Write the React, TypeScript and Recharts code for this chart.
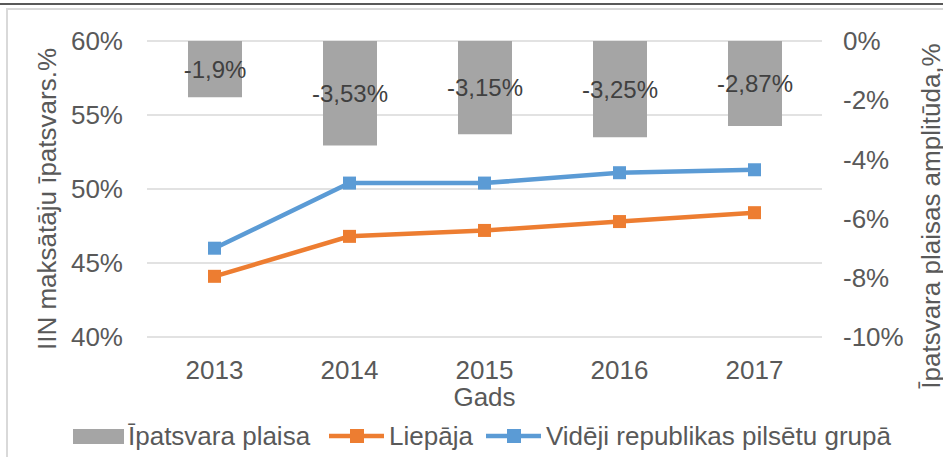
import {
  ComposedChart,
  Bar,
  Line,
  XAxis,
  YAxis,
  CartesianGrid,
  LabelList,
  Legend,
  Label,
} from "recharts";

const years = ["2013", "2014", "2015", "2016", "2017"];
const gapValues = [-1.9, -3.53, -3.15, -3.25, -2.87];
const liepajaValues = [44.1, 46.8, 47.2, 47.8, 48.4];
const averageValues = [46.0, 50.4, 50.4, 51.1, 51.3];
const leftTicks = [40, 45, 50, 55, 60];
const rightTicks = [-10, -8, -6, -4, -2, 0];

const GRAY = "#a5a5a5";
const ORANGE = "#ed7d31";
const BLUE = "#5b9bd5";
const TEXT = "#595959";
const FONT = "'Liberation Sans', Arial, sans-serif";
const FS = 26;

const data = years.map((year, i) => ({
  year,
  gap: gapValues[i],
  liepaja: liepajaValues[i],
  average: averageValues[i],
}));

const pct = (v: number) => `${String(v).replace(".", ",")}%`;

function SquareDot(props: any) {
  const { cx, cy, stroke } = props;
  if (cx == null || cy == null) return null;
  return <rect x={cx - 6.5} y={cy - 6.5} width={13} height={13} fill={stroke} />;
}

function LegendBox() {
  const lineIcon = (color: string, ml: number) => (
    <svg width={55} height={16} style={{ marginLeft: ml, marginRight: 5 }}>
      <line x1={0} y1={8} x2={55} y2={8} stroke={color} strokeWidth={4.5} />
      <rect x={21} y={1} width={14} height={14} fill={color} />
    </svg>
  );
  return (
    <div
      style={{
        display: "flex",
        alignItems: "center",
        fontFamily: FONT,
        fontSize: FS,
        color: TEXT,
        whiteSpace: "nowrap",
        lineHeight: "30px",
      }}
    >
      <div style={{ width: 51, height: 15, background: GRAY, marginRight: 4 }} />
      <span>Īpatsvara plaisa</span>
      {lineIcon(ORANGE, 19)}
      <span>Liepāja</span>
      {lineIcon(BLUE, 13)}
      <span>Vidēji republikas pilsētu grupā</span>
    </div>
  );
}

export default function App() {
  return (
    <div style={{ position: "relative", width: 943, height: 457, background: "#fff", overflow: "hidden" }}>
      <style>{`body{margin:0}`}</style>
      <div style={{ position: "absolute", left: 0, top: 3, width: 943, height: 2, background: "#595959" }} />
      <div
        style={{
          position: "absolute",
          left: 6,
          top: 8,
          width: 960,
          height: 470,
          border: "2px solid #d9d9d9",
        }}
      />
      <ComposedChart
        width={943}
        height={457}
        data={data}
        margin={{ top: 41, right: 0, bottom: 6, left: 0 }}
        style={{ fontFamily: FONT }}
      >
        <CartesianGrid yAxisId="left" vertical={false} stroke="#d9d9d9" strokeWidth={1.5} />
        <XAxis
          dataKey="year"
          height={84}
          axisLine={false}
          tickLine={false}
          tickSize={0}
          tickMargin={24}
          tick={{ fill: TEXT, fontSize: FS }}
        >
          <Label value="Gads" position="insideBottom" offset={15} fill={TEXT} fontSize={FS} />
        </XAxis>
        <YAxis
          yAxisId="left"
          domain={[40, 60]}
          ticks={leftTicks}
          tickFormatter={(v: number) => `${v}%`}
          width={147}
          axisLine={false}
          tickLine={false}
          tickSize={0}
          tickMargin={24}
          tick={{ fill: TEXT, fontSize: FS }}
        >
          <Label
            content={({ viewBox }: any) => (
              <text
                x={0}
                y={0}
                transform={`translate(${viewBox.x + 56},${viewBox.y + 158}) rotate(-90)`}
                textAnchor="middle"
                fill={TEXT}
                fontSize={FS}
              >
                IIN maksātāju īpatsvars.%
              </text>
            )}
          />
        </YAxis>
        <YAxis
          yAxisId="right"
          orientation="right"
          domain={[-10, 0]}
          ticks={rightTicks}
          tickFormatter={(v: number) => `${v}%`}
          width={121}
          axisLine={false}
          tickLine={false}
          tickSize={0}
          tickMargin={21}
          tick={{ fill: TEXT, fontSize: FS }}
        >
          <Label
            content={({ viewBox }: any) => (
              <text
                x={0}
                y={0}
                transform={`translate(${viewBox.x + 118},${viewBox.y + 175}) rotate(-90)`}
                textAnchor="middle"
                fill={TEXT}
                fontSize={FS}
              >
                Īpatsvara plaisas amplitūda,%
              </text>
            )}
          />
        </YAxis>
        <Legend
          verticalAlign="bottom"
          height={30}
          wrapperStyle={{ left: 73, width: "auto" }}
          content={() => <LegendBox />}
        />
        <Bar yAxisId="right" dataKey="gap" fill={GRAY} barSize={54} isAnimationActive={false}>
          <LabelList dataKey="gap" position="center" formatter={(v: any) => pct(v)} fill="#404040" fontSize={24} />
        </Bar>
        <Line
          yAxisId="left"
          dataKey="liepaja"
          stroke={ORANGE}
          strokeWidth={4.5}
          dot={<SquareDot />}
          activeDot={false}
          isAnimationActive={false}
        />
        <Line
          yAxisId="left"
          dataKey="average"
          stroke={BLUE}
          strokeWidth={4.5}
          dot={<SquareDot />}
          activeDot={false}
          isAnimationActive={false}
        />
      </ComposedChart>
    </div>
  );
}
